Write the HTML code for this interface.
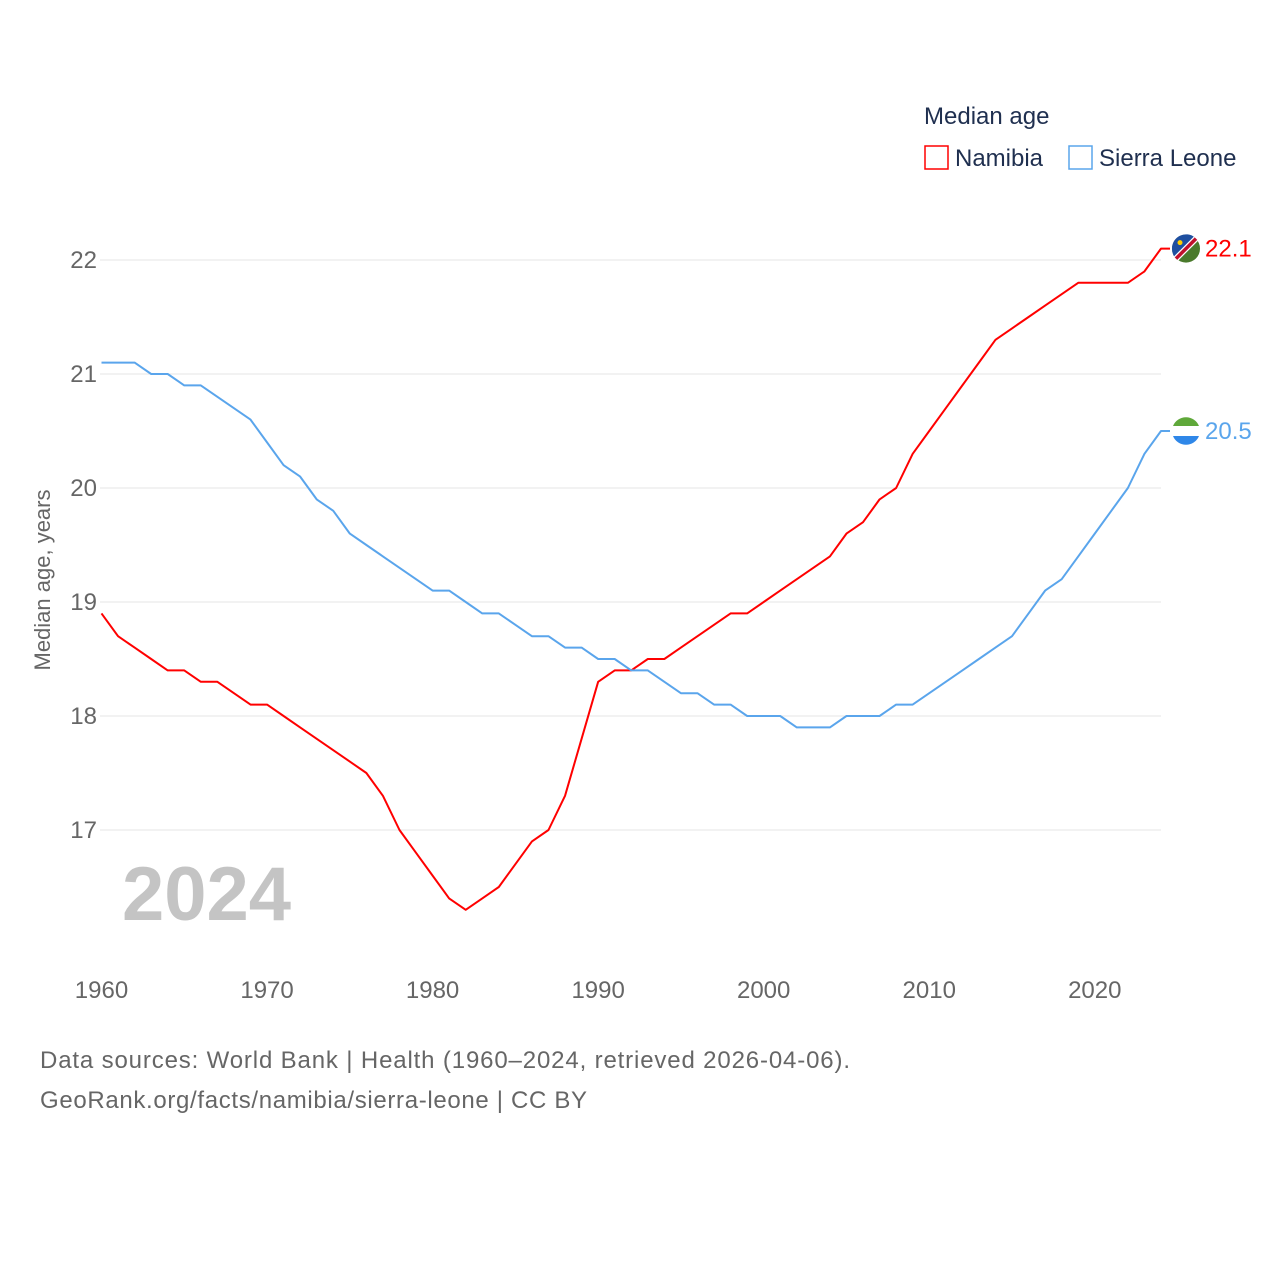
<!DOCTYPE html>
<html><head><meta charset="utf-8"><style>
body{margin:0;background:#fff;font-family:"Liberation Sans",sans-serif}
svg text{font-family:"Liberation Sans",sans-serif}
</style></head><body>
<svg id="chart" width="1280" height="1280">
<text x="924" y="124" font-size="24" fill="#1f2f4f">Median age</text>
<g><rect x="925" y="146" width="23" height="23" fill="none" stroke="#f00" stroke-width="1.5"/><text x="955" y="166" font-size="24" fill="#1f2f4f">Namibia</text></g>
<g><rect x="1069" y="146" width="23" height="23" fill="none" stroke="#5aa5ec" stroke-width="1.5"/><text x="1099" y="166" font-size="24" fill="#1f2f4f">Sierra Leone</text></g>
<text transform="translate(50,580) rotate(-90)" text-anchor="middle" font-size="22" fill="#666">Median age, years</text>
<g id="grid"></g><g id="series"></g>
<text x="122" y="920" font-size="76" font-weight="bold" fill="#c4c4c4">2024</text>
<text x="40" y="1068" font-size="24" fill="#666" textLength="810">Data sources: World Bank | Health (1960–2024, retrieved 2026-04-06).</text>
<text x="40" y="1108" font-size="24" fill="#666" textLength="547">GeoRank.org/facts/namibia/sierra-leone | CC BY</text>
</svg>
<script>
const years=[];for(let y=1960;y<=2024;y++)years.push(y);
const namibia=[18.9,18.7,18.6,18.5,18.4,18.4,18.3,18.3,18.2,18.1,18.1,18.0,17.9,17.8,17.7,17.6,17.5,17.3,17.0,16.8,16.6,16.4,16.3,16.4,16.5,16.7,16.9,17.0,17.3,17.8,18.3,18.4,18.4,18.5,18.5,18.6,18.7,18.8,18.9,18.9,19.0,19.1,19.2,19.3,19.4,19.6,19.7,19.9,20.0,20.3,20.5,20.7,20.9,21.1,21.3,21.4,21.5,21.6,21.7,21.8,21.8,21.8,21.8,21.9,22.1];
const sierraLeone=[21.1,21.1,21.1,21.0,21.0,20.9,20.9,20.8,20.7,20.6,20.4,20.2,20.1,19.9,19.8,19.6,19.5,19.4,19.3,19.2,19.1,19.1,19.0,18.9,18.9,18.8,18.7,18.7,18.6,18.6,18.5,18.5,18.4,18.4,18.3,18.2,18.2,18.1,18.1,18.0,18.0,18.0,17.9,17.9,17.9,18.0,18.0,18.0,18.1,18.1,18.2,18.3,18.4,18.5,18.6,18.7,18.9,19.1,19.2,19.4,19.6,19.8,20.0,20.3,20.5];
const yTicks=[17,18,19,20,21,22];
const xTicks=[1960,1970,1980,1990,2000,2010,2020];
const X=y=>101.5+(y-1960)*(1161-101.5)/64;
const Y=v=>260+(22-v)*114;
const NS="http://www.w3.org/2000/svg";
function mk(t,a,p){const e=document.createElementNS(NS,t);for(const k in a)e.setAttribute(k,a[k]);p.appendChild(e);return e;}
const grid=document.getElementById('grid'),ser=document.getElementById('series');
yTicks.forEach(v=>{
 const l=mk('line',{x1:100,x2:1161,y1:Y(v),y2:Y(v),stroke:'#e6e6e6','stroke-width':1},grid);
 
 
 const t=mk('text',{x:97,y:Y(v)+8,'text-anchor':'end','font-size':24,fill:'#666'},grid);t.textContent=v;
 
 
});
xTicks.forEach(v=>{
 const t=mk('text',{x:X(v),y:998,'text-anchor':'middle','font-size':24,fill:'#666'},grid);t.textContent=v;
 
 
});
function draw(vals,color,name,flag){
 let d=vals.map((v,i)=>(i?'L':'M')+X(years[i])+','+Y(v)).join(' ');
 d+=' L1170,'+Y(vals[vals.length-1]);
 const p=mk('path',{d:d,fill:'none',stroke:color,'stroke-width':2,'stroke-linejoin':'round'},ser);
 
 
 const ly=Y(vals[vals.length-1]);
 const g=mk('g',{},ser);
 
 
 flag(g,1186,ly);
 const t=mk('text',{x:1205,y:ly+8,'font-size':24,fill:color},ser);t.textContent=vals[vals.length-1].toFixed(1);
 
 
}
draw(namibia,'#f00','namibia',(g,cx,cy)=>{
 mk('circle',{cx,cy,r:14,fill:'#4a7a2c'},g);
 mk('path',{d:`M${cx-14},${cy} A14,14 0 0 1 ${cx+9},${cy-11} L${cx-9},${cy+11} A14,14 0 0 1 ${cx-14},${cy}Z`,fill:'#1e4fa0'},g);
 mk('line',{x1:cx-10,y1:cy+10,x2:cx+10,y2:cy-10,stroke:'#fff','stroke-width':6},g);
 mk('line',{x1:cx-10,y1:cy+10,x2:cx+10,y2:cy-10,stroke:'#c0102c','stroke-width':3.5},g);
 mk('circle',{cx:cx-6,cy:cy-6,r:2.5,fill:'#ffce00'},g);
});
draw(sierraLeone,'#5aa5ec','sierra-leone',(g,cx,cy)=>{
 mk('circle',{cx,cy,r:14,fill:'#fff'},g);
 mk('path',{d:`M${cx-13},${cy-5} A14,14 0 0 1 ${cx+13},${cy-5}Z`,fill:'#5fa83a'},g);
 mk('path',{d:`M${cx-13},${cy+5} A14,14 0 0 0 ${cx+13},${cy+5}Z`,fill:'#2f87e8'},g);
});
</script>
</body></html>
